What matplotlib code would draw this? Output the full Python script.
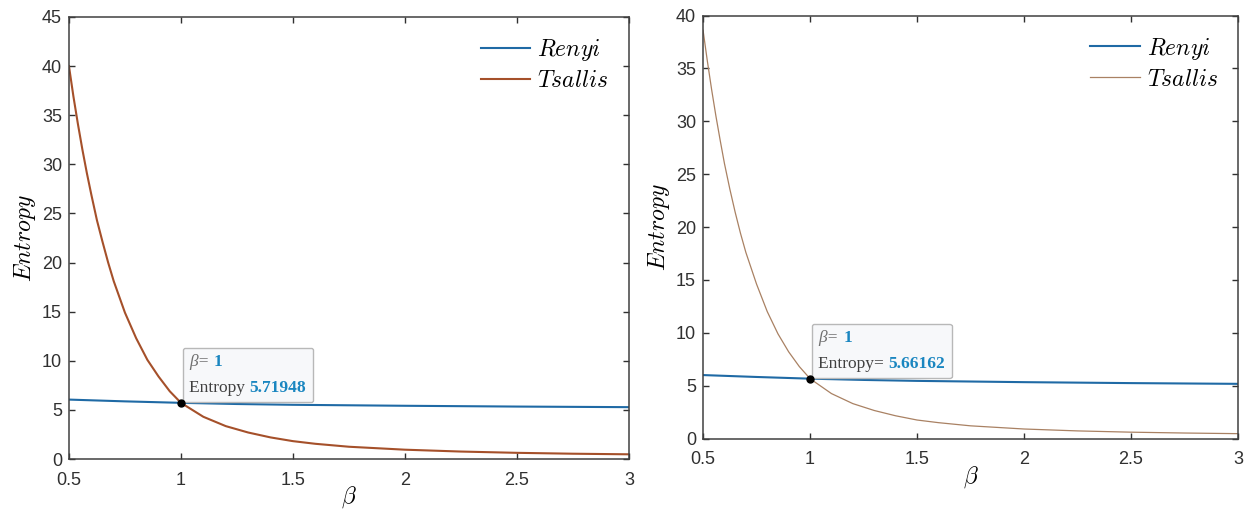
import numpy as np
import matplotlib.pyplot as plt
from matplotlib.offsetbox import TextArea, HPacker, VPacker, AnnotationBbox

plt.rcParams['mathtext.fontset'] = 'cm'
plt.rcParams['font.family'] = ['Liberation Sans', 'DejaVu Sans']

# Datos (beta vs entropia)
beta_ts_1 = [0.50, 0.52, 0.54, 0.56, 0.58, 0.60, 0.625, 0.65, 0.675, 0.70, 0.75, 0.80,
             0.85, 0.90, 0.95, 1.00, 1.10, 1.20, 1.30, 1.40, 1.50, 1.60, 1.75, 2.00,
             2.25, 2.50, 2.75, 3.00]
tsallis_1 = [40.0, 36.9, 34.1, 31.5, 29.1, 26.9, 24.3, 22.1, 20.0, 18.1, 14.9, 12.3,
             10.1, 8.4, 6.9, 5.72, 4.3, 3.35, 2.7, 2.2, 1.82, 1.55, 1.25, 0.95,
             0.76, 0.63, 0.54, 0.48]
beta_re_1 = [0.50, 0.75, 1.00, 1.25, 1.50, 2.00, 2.50, 3.00]
renyi_1 = [6.05, 5.87, 5.72, 5.60, 5.52, 5.42, 5.34, 5.28]

beta_ts_2 = [0.50, 0.52, 0.54, 0.56, 0.58, 0.60, 0.625, 0.65, 0.675, 0.70, 0.75, 0.80,
             0.85, 0.90, 0.95, 1.00, 1.10, 1.20, 1.30, 1.40, 1.50, 1.60, 1.75, 2.00,
             2.25, 2.50, 2.75, 3.00]
tsallis_2 = [38.6, 35.7, 33.0, 30.5, 28.2, 26.0, 23.6, 21.4, 19.4, 17.6, 14.6, 12.0,
             9.9, 8.2, 6.8, 5.66, 4.25, 3.3, 2.65, 2.15, 1.75, 1.5, 1.2, 0.9,
             0.72, 0.60, 0.52, 0.46]
beta_re_2 = [0.50, 0.75, 1.00, 1.25, 1.50, 2.00, 2.50, 3.00]
renyi_2 = [6.00, 5.82, 5.66, 5.54, 5.45, 5.33, 5.24, 5.17]

tip_1 = 5.71948
tip_2 = 5.66162

fig = plt.figure(figsize=(12.47, 5.15), dpi=100)
ax1 = fig.add_axes([0.0553, 0.1087, 0.449, 0.8583])
ax2 = fig.add_axes([0.5638, 0.1485, 0.429, 0.8214])

blue = '#1f6aa5'
setups = [
    (ax1, beta_re_1, renyi_1, beta_ts_1, tsallis_1, '#a5502a', 1.5, 45, tip_1, 'Entropy '),
    (ax2, beta_re_2, renyi_2, beta_ts_2, tsallis_2, '#a98163', 0.9, 40, tip_2, 'Entropy= '),
]

for ax, br, re, bt, ts, tcol, tlw, ymax, tip, tiplab in setups:
    ax.plot(br, re, color=blue, lw=1.5, label=r'$Renyi$')
    ax.plot(bt, ts, color=tcol, lw=tlw, label=r'$Tsallis$')
    ax.plot([1.0], [tip], 'o', color='black', ms=5, zorder=5)
    ax.set_xlim(0.5, 3)
    ax.set_ylim(0, ymax)
    ax.set_xticks([0.5, 1, 1.5, 2, 2.5, 3])
    ax.set_xticklabels(['0.5', '1', '1.5', '2', '2.5', '3'])
    ax.set_yticks(np.arange(0, ymax + 1, 5))
    ax.tick_params(direction='in', top=True, right=True, length=4, width=1,
                   labelsize=13, colors='#303030')
    ax.tick_params(axis='x', pad=9)
    ax.tick_params(axis='y', pad=5)
    for s in ax.spines.values():
        s.set_color('#404040')
        s.set_linewidth(1.1)
    ax.set_xlabel(r'$\beta$', fontsize=17, labelpad=-3)
    ax.set_ylabel(r'$Entropy$', fontsize=17, labelpad=3)
    ax.legend(loc='upper right', frameon=False, fontsize=17, handlelength=2.1,
              handletextpad=0.3, labelspacing=0.3, borderaxespad=0.45)

    # cuadro de datos (datatip)
    tp = dict(family='Liberation Serif', size=12.5, color='#404040')
    tb = dict(family='Liberation Serif', size=12.5, color='#1a86c0', weight='bold')
    row1 = HPacker(children=[TextArea('β= ', textprops=dict(tp, style='italic', color='#707070')),
                             TextArea('1', textprops=tb)], align='baseline', pad=0, sep=0)
    row2 = HPacker(children=[TextArea(tiplab, textprops=tp),
                             TextArea(f'{tip:.5f}', textprops=tb)], align='baseline', pad=0, sep=0)
    box = VPacker(children=[row1, row2], align='left', pad=0, sep=7)
    ab = AnnotationBbox(box, (1.0, tip), xybox=(6, 5), xycoords='data',
                        boxcoords='offset points', box_alignment=(0, 0),
                        bboxprops=dict(boxstyle='round,pad=0.45,rounding_size=0.15',
                                       fc='#f7f8fa', ec='#b8b8b8', lw=1))
    ax.add_artist(ab)

plt.savefig('out.png', dpi=100)
